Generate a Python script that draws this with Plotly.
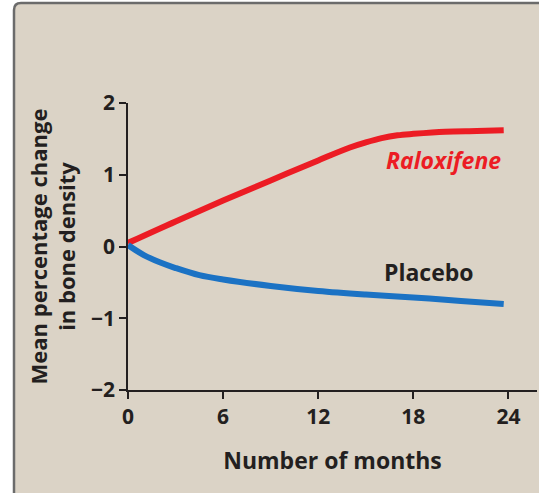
import plotly.graph_objects as go

# Data
ralox_months = [0, 3, 6, 9, 12, 14, 15, 16, 17, 18, 20, 22, 23.7]
ralox_values = [0.05, 0.35, 0.64, 0.92, 1.20, 1.38, 1.45, 1.51, 1.55, 1.57, 1.60, 1.61, 1.62]

placebo_months = [0, 1, 2, 3, 4.5, 6, 9, 12, 15, 18, 21, 23.7]
placebo_values = [0.02, -0.12, -0.22, -0.30, -0.40, -0.46, -0.55, -0.62, -0.67, -0.71, -0.76, -0.80]

x_ticks = [0, 6, 12, 18, 24]
y_ticks = [-2, -1, 0, 1, 2]
y_tick_labels = ["\u22122", "\u22121", "0", "1", "2"]

W, H = 539, 493
ML, MR = 128, 2
MT = 103
MB = H - 390
PW, PH = W - ML - MR, H - MT - MB

def px(x):  # page pixel -> paper coord
    return (x - ML) / PW

def py(y):
    return (H - MB - y) / PH

BEIGE = "#dbd3c6"
DARK = "#231f20"
FONT = "Open Sans"

fig = go.Figure()
fig.add_trace(go.Scatter(x=ralox_months, y=ralox_values, mode="lines",
                         line=dict(color="#ec1c24", width=6, shape="spline"),
                         showlegend=False))
fig.add_trace(go.Scatter(x=placebo_months, y=placebo_values, mode="lines",
                         line=dict(color="#1b72c4", width=6, shape="spline"),
                         showlegend=False))

# rounded border box
r = 7
x0, y0 = 14, 3
path = (f"M {px(x0)},{py(H + 40)} L {px(x0)},{py(y0 + r)} "
        f"Q {px(x0)},{py(y0)} {px(x0 + r)},{py(y0)} L {px(W + 40)},{py(y0)} "
        f"L {px(W + 40)},{py(H + 40)} Z")
fig.add_shape(type="path", path=path, xref="paper", yref="paper",
              fillcolor=BEIGE, line=dict(color="#6b6b6b", width=2.5), layer="below")

fig.add_annotation(x=px(443), y=py(160), xref="paper", yref="paper",
                   xanchor="center", yanchor="middle",
                   text="<b><i>Raloxifene</i></b>", showarrow=False,
                   font=dict(family=FONT, size=23, color="#ec1c24"))
fig.add_annotation(x=px(429), y=py(272), xref="paper", yref="paper",
                   xanchor="center", yanchor="middle",
                   text="<b>Placebo</b>", showarrow=False,
                   font=dict(family=FONT, size=23, color=DARK))

fig.update_layout(
    width=W, height=H,
    margin=dict(l=ML, r=MR, t=MT, b=MB),
    paper_bgcolor="white",
    plot_bgcolor="rgba(0,0,0,0)",
    font=dict(family=FONT, color=DARK),
    xaxis=dict(range=[0, 25.8], tickvals=x_ticks, showgrid=False, zeroline=False,
               showline=True, linecolor=DARK, linewidth=1.5,
               ticks="outside", ticklen=7, tickwidth=1.5, tickcolor=DARK,
               tickfont=dict(family=FONT, size=21, color=DARK, weight="bold"),
               title=dict(text="<b>Number of months</b>", standoff=24,
                          font=dict(family=FONT, size=23, color=DARK))),
    yaxis=dict(range=[-2, 2], tickvals=y_ticks, ticktext=y_tick_labels,
               showgrid=False, zeroline=False,
               showline=True, linecolor=DARK, linewidth=1.5,
               ticks="outside", ticklen=7, tickwidth=1.5, tickcolor=DARK,
               tickfont=dict(family=FONT, size=21, color=DARK, weight="bold"),
               title=dict(text="<b>Mean percentage change<br>in bone density</b>",
                          standoff=9,
                          font=dict(family=FONT, size=22, color=DARK))),
)

fig.write_html("out.html", config={"displayModeBar": False},
               post_script="document.body.style.margin='0';")
